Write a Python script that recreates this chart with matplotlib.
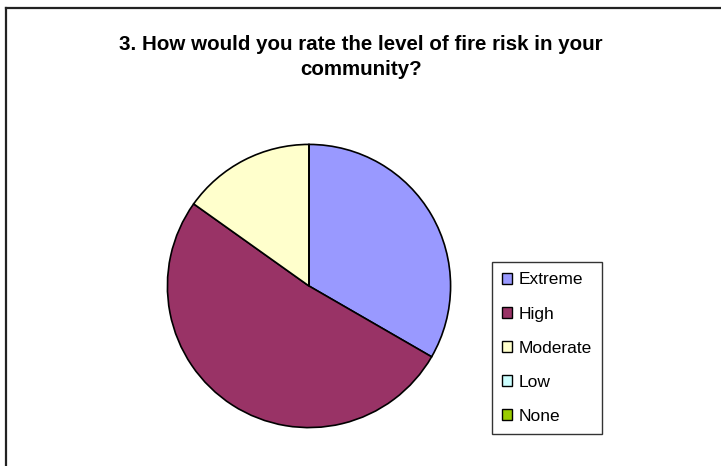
import matplotlib
matplotlib.use("Agg")
import matplotlib.pyplot as plt
from matplotlib.patches import Patch
from matplotlib.lines import Line2D

categories = ["Extreme", "High", "Moderate", "Low", "None"]
values = [22, 34, 10, 0, 0]
colors = ["#9999FF", "#993366", "#FFFFCC", "#CCFFFF", "#99CC00"]
title = "3. How would you rate the level of fire risk in your\ncommunity?"

W, H = 721, 466
dpi = 100
fig = plt.figure(figsize=(W / dpi, H / dpi), dpi=dpi)
fig.patch.set_facecolor("white")
plt.rcParams["font.family"] = ["Liberation Sans", "DejaVu Sans"]

# pie axes in pixel coordinates
cx, cy, r = 309, 286, 143
ax = fig.add_axes([(cx - r) / W, 1 - (cy + r) / H, 2 * r / W, 2 * r / H])
ax.pie(values, colors=colors, startangle=90, counterclock=False,
       wedgeprops=dict(edgecolor="black", linewidth=1.2), radius=1)
ax.set_xlim(-1.01, 1.01)
ax.set_ylim(-1.01, 1.01)
ax.axis("off")

# title
fig.text(361 / W, 1 - 57 / H, title, ha="center", va="center",
         fontsize=14.8, fontweight="bold", linespacing=1.4)

# legend
handles = [Patch(facecolor=c, edgecolor="black", linewidth=1) for c in colors]
leg = fig.legend(handles, categories, loc="upper left",
                 bbox_to_anchor=(492 / W, 1 - 262 / H),
                 fontsize=12.5, frameon=True, fancybox=False, shadow=False,
                 handlelength=0.55, handleheight=0.55, handletextpad=0.38,
                 labelspacing=1.1, borderpad=0.6, borderaxespad=0)
leg.get_frame().set_edgecolor("black")
leg.get_frame().set_linewidth(1)

# chart area border (top and left visible)
fig.add_artist(Line2D([5.5 / W, 5.5 / W], [0, 1 - 8 / H], color="#222222", linewidth=1.6))
fig.add_artist(Line2D([5.5 / W, 1], [1 - 8 / H, 1 - 8 / H], color="#222222", linewidth=1.6))

fig.savefig("out.png", dpi=dpi, facecolor="white")
